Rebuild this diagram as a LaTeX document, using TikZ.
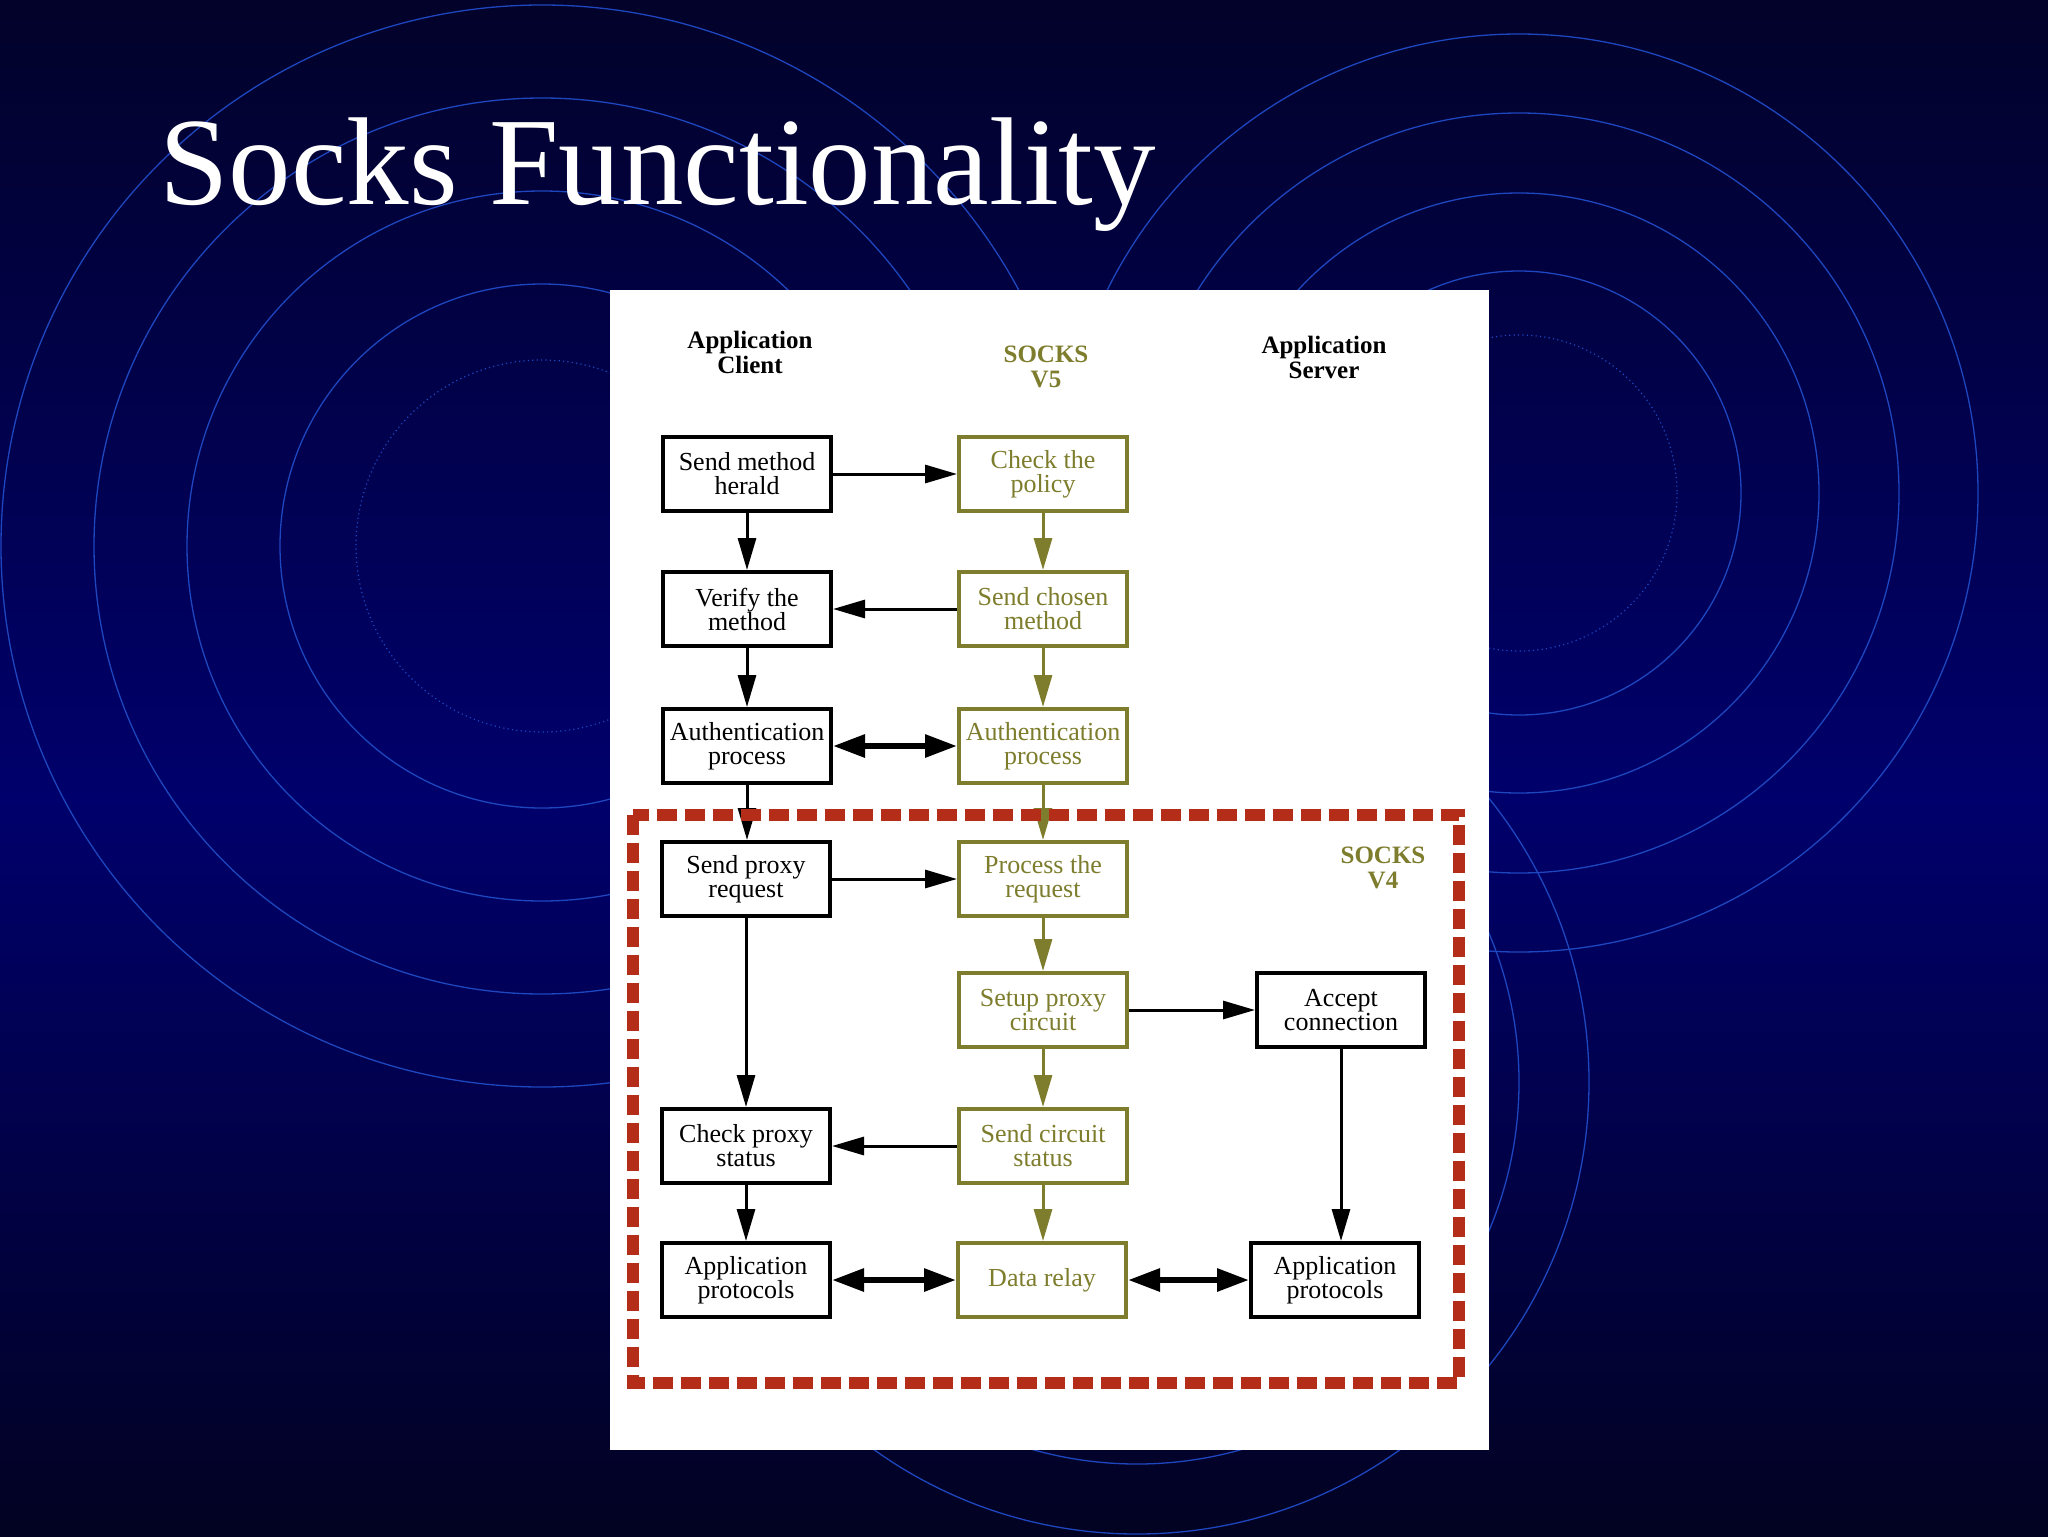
\documentclass[tikz,border=0pt]{standalone}
\usepackage{fontspec}
\setmainfont{Liberation Serif}
\usetikzlibrary{arrows.meta}
\definecolor{olv}{RGB}{125,125,45}
\definecolor{dred}{RGB}{180,45,25}
\definecolor{ringc}{RGB}{30,70,190}
\definecolor{bgA}{RGB}{3,3,12}
\definecolor{bgB}{RGB}{2,2,34}
\definecolor{bgC}{RGB}{0,0,108}
\definecolor{bgD}{RGB}{2,2,42}
\definecolor{bgE}{RGB}{1,1,16}
\definecolor{bgF}{RGB}{0,0,0}
\pgfdeclareverticalshading{bgsh}{100bp}{color(0bp)=(bgA); color(25bp)=(bgB); color(49bp)=(bgC); color(75bp)=(bgD); color(88bp)=(bgE); color(100bp)=(bgF)}
\tikzset{
  ringline/.style={ringc, line width=0.65pt},
  ringdot/.style={ringc, line width=0.6pt, dash pattern=on 0.6pt off 1.6pt},
  boxbase/.style={rectangle, line width=2pt, fill=white, minimum width=84pt, minimum height=37pt, inner sep=0pt, align=center, font=\fontsize{13pt}{12pt}\selectfont},
  bk/.style={boxbase, draw=black, text=black},
  ol/.style={boxbase, draw=olv, text=olv},
  hd/.style={align=center, inner sep=0pt, font=\bfseries\fontsize{12.5pt}{12.5pt}\selectfont},
  arr/.style={line width=1.5pt, -{Triangle[length=16pt,width=9pt]}},
  dbl/.style={line width=3pt, {Triangle[length=16pt,width=11pt]}-{Triangle[length=16pt,width=11pt]}},
}
\begin{document}
\begin{tikzpicture}[x=0.5pt,y=-0.5pt]
\useasboundingbox (0,0) rectangle (2048,1536);
\shade[shading=bgsh] (0,0) rectangle (2048,1536);
% background rings
\draw[ringdot] (542,546) circle[radius=186];
\foreach \r in {262,355,448,541} \draw[ringline] (542,546) circle[radius=\r];
\draw[ringdot] (1519,493) circle[radius=158];
\foreach \r in {222,300,380,459} \draw[ringline] (1519,493) circle[radius=\r];
\foreach \r in {382,452} \draw[ringline] (1137,1082) circle[radius=\r];
% title
\node[anchor=base west, text=white, inner sep=0pt, font=\fontsize{62.5pt}{70pt}\selectfont] (title) at (159,204) {Socks Functionality};
% white panel
\fill[white] (610,290) rectangle (1489,1450);
% headers
\node[hd] (hc) at (750,352) {Application\\Client};
\node[hd, text=olv] (h5) at (1046,367) {SOCKS\\V5};
\node[hd] (hs) at (1324,357) {Application\\Server};
\node[hd, text=olv] (h4) at (1383,868) {SOCKS\\V4};
% boxes
\node[bk] (smh) at (747,474) {Send method\\herald};
\node[ol] (ctp) at (1043,474) {Check the\\policy};
\node[bk] (vtm) at (747,609) {Verify the\\method};
\node[ol] (scm) at (1043,609) {Send chosen\\method};
\node[bk] (apc) at (747,746) {Authentication\\process};
\node[ol] (aps) at (1043,746) {Authentication\\process};
\node[bk] (spr) at (746,879) {Send proxy\\request};
\node[ol] (ptr) at (1043,879) {Process the\\request};
\node[ol] (spc) at (1043,1010) {Setup proxy\\circuit};
\node[bk] (acc) at (1341,1010) {Accept\\connection};
\node[bk] (cps) at (746,1146) {Check proxy\\status};
\node[ol] (scs) at (1043,1146) {Send circuit\\status};
\node[bk] (apl) at (746,1280) {Application\\protocols};
\node[ol] (drl) at (1042,1280) {Data relay};
\node[bk] (apr) at (1335,1280) {Application\\protocols};
% vertical connectors
\draw[arr] (smh) -- (vtm);
\draw[arr] (vtm) -- (apc);
\draw[arr] (apc.south) -- (apc.south |- spr.north);
\draw[arr] (spr) -- (cps);
\draw[arr] (cps) -- (apl);
\draw[arr, olv] (ctp) -- (scm);
\draw[arr, olv] (scm) -- (aps);
\draw[arr, olv] (aps) -- (ptr);
\draw[arr, olv] (ptr) -- (spc);
\draw[arr, olv] (spc) -- (scs);
\draw[arr, olv] (scs.south) -- (scs.south |- drl.north);
\draw[arr] (acc.south) -- (acc.south |- apr.north);
% horizontal connectors
\draw[arr] (smh) -- (ctp);
\draw[arr] (scm) -- (vtm);
\draw[dbl] (apc) -- (aps);
\draw[arr] (spr) -- (ptr);
\draw[arr] (spc) -- (acc);
\draw[arr] (scs) -- (cps);
\draw[dbl] (apl) -- (drl);
\draw[dbl] (drl) -- (apr);
% SOCKS V4 region
\draw[dred, line width=6pt, dash pattern=on 10pt off 4pt] (633,815) rectangle (1459,1383);
\end{tikzpicture}
\end{document}
